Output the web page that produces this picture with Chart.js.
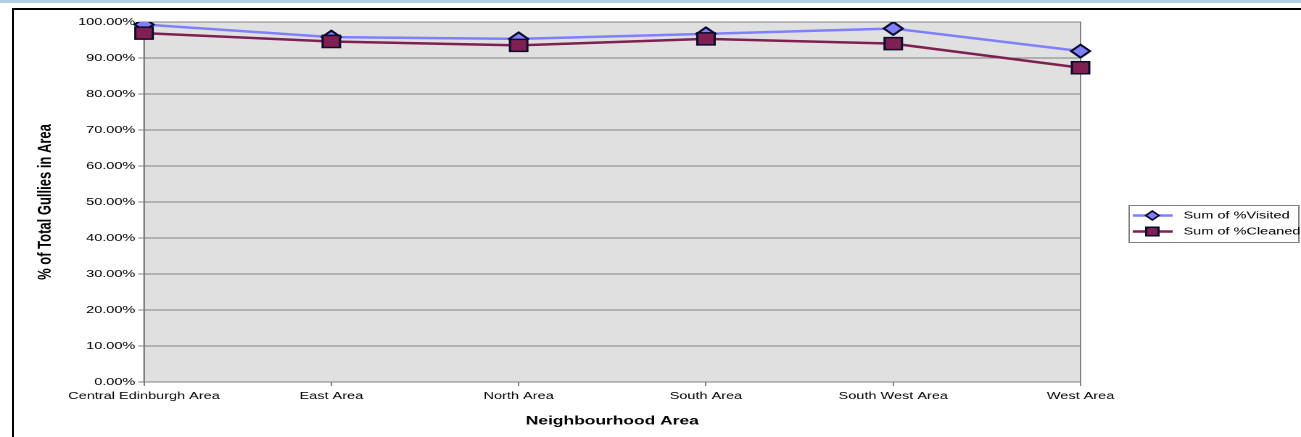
<!DOCTYPE html>
<html>
<head>
<meta charset="utf-8">
<script src="https://cdn.jsdelivr.net/npm/chart.js@4/dist/chart.umd.min.js"></script>
<style>
  html, body { margin: 0; padding: 0; background: #fff; overflow: hidden; }
  body { width: 1301px; height: 437px; position: relative; }
  #topline { position: absolute; left: 0; top: 0; width: 1301px; height: 3px; background: #b0cde6; }
  #frame { position: absolute; left: 12px; top: 8px; width: 1300px; height: 440px;
           border-left: 2px solid #000; border-top: 2px solid #000; }
  /* the chart is laid out narrow and widened horizontally */
  #wrap { position: absolute; left: 0; top: 0; width: 897px; height: 437px;
          transform: scaleX(1.4504); transform-origin: 0 0; }
  #chart { display: block; }
</style>
</head>
<body>
<div id="topline"></div>
<div id="frame"></div>
<div id="wrap"><canvas id="chart" width="897" height="437" style="width:897px;height:437px"></canvas></div>
<script>
const areas = ['Central Edinburgh Area', 'East Area', 'North Area', 'South Area', 'South West Area', 'West Area'];
const visitedPct = [99.3, 95.8, 95.3, 96.7, 98.2, 91.9];
const cleanedPct = [96.9, 94.6, 93.5, 95.3, 94.0, 87.3];
const seriesNames = ['Sum of %Visited', 'Sum of %Cleaned'];
const yTickStep = 10;

const BASE_FONT = "'Liberation Sans', Arial, sans-serif";
const VISITED_COLOR = '#8080ff';
const CLEANED_COLOR = '#7f2052';
const EDGE_COLOR = '#0a0a2a';

// grey plot area with a thin border
const plotArea = {
  id: 'plotArea',
  beforeDraw(chart) {
    const { ctx, chartArea: a } = chart;
    ctx.save();
    ctx.fillStyle = '#e0e0e0';
    ctx.fillRect(a.left, a.top, a.right - a.left, a.bottom - a.top);
    ctx.restore();
  },
  beforeDatasetsDraw(chart) {
    const { ctx, chartArea: a } = chart;
    ctx.save();
    ctx.strokeStyle = '#808080';
    ctx.lineWidth = 1;
    ctx.strokeRect(a.left, a.top, a.right - a.left, a.bottom - a.top);
    ctx.restore();
  }
};

function drawMarker(ctx, style, x, y, r, fill, stroke) {
  ctx.beginPath();
  if (style === 'rectRot') {
    ctx.moveTo(x, y - r); ctx.lineTo(x + r, y); ctx.lineTo(x, y + r); ctx.lineTo(x - r, y);
  } else {
    const s = r * Math.SQRT1_2;
    ctx.rect(x - s, y - s, 2 * s, 2 * s);
  }
  ctx.closePath();
  ctx.fillStyle = fill; ctx.fill();
  ctx.lineWidth = 1.5; ctx.strokeStyle = stroke; ctx.stroke();
}

// boxed legend to the right of the plot
const boxLegend = {
  id: 'boxLegend',
  afterDraw(chart) {
    const { ctx, chartArea: a } = chart;
    const x0 = a.right + 33.5, y0 = 205.5, w = 117, h = 37;
    ctx.save();
    ctx.fillStyle = '#fff';
    ctx.fillRect(x0, y0, w, h);
    ctx.strokeStyle = '#808080';
    ctx.lineWidth = 1;
    ctx.strokeRect(x0, y0, w, h);
    chart.data.datasets.forEach((ds, i) => {
      const y = 215.5 + i * 16;
      ctx.beginPath();
      ctx.moveTo(x0 + 2.5, y); ctx.lineTo(x0 + 30, y);
      ctx.strokeStyle = ds.borderColor; ctx.lineWidth = 2.5; ctx.stroke();
      drawMarker(ctx, ds.pointStyle, x0 + 16, y, i === 0 ? 4.5 : 6, ds.pointBackgroundColor, ds.pointBorderColor);
      ctx.fillStyle = '#000';
      ctx.font = '10px ' + BASE_FONT;
      ctx.textAlign = 'left';
      ctx.textBaseline = 'middle';
      ctx.fillText(ds.label, x0 + 37.5, y);
    });
    ctx.restore();
  }
};

new Chart(document.getElementById('chart'), {
  type: 'line',
  data: {
    labels: areas,
    datasets: [
      {
        label: seriesNames[0],
        data: visitedPct,
        order: 2,
        borderColor: VISITED_COLOR,
        borderWidth: 2.5,
        pointStyle: 'rectRot',
        pointRadius: 6.5,
        pointBackgroundColor: VISITED_COLOR,
        pointBorderColor: EDGE_COLOR,
        pointBorderWidth: 1.8,
        tension: 0
      },
      {
        label: seriesNames[1],
        data: cleanedPct,
        order: 1,
        borderColor: CLEANED_COLOR,
        borderWidth: 2.5,
        pointStyle: 'rect',
        pointRadius: 8.5,
        pointBackgroundColor: CLEANED_COLOR,
        pointBorderColor: EDGE_COLOR,
        pointBorderWidth: 1.5,
        tension: 0
      }
    ]
  },
  options: {
    responsive: false,
    animation: false,
    devicePixelRatio: 2,
    layout: { padding: { left: 0, right: 152, top: 22, bottom: 0 } },
    plugins: { legend: { display: false }, tooltip: { enabled: false } },
    scales: {
      x: {
        type: 'category',
        offset: false,
        afterFit(scale) { scale.height = 55; },
        grid: { drawOnChartArea: false, drawTicks: true, tickLength: 4, color: '#808080' },
        border: { display: true, color: '#808080', width: 1 },
        ticks: { color: '#000', padding: 4, maxRotation: 0, autoSkip: false, font: { size: 10, family: BASE_FONT } },
        title: {
          display: true,
          text: 'Neighbourhood Area',
          color: '#000',
          padding: { top: 0, bottom: 8.8 },
          font: { size: 12, weight: 'bold', family: BASE_FONT }
        }
      },
      y: {
        min: 0,
        max: 100,
        afterFit(scale) { scale.width = 99.3; },
        grid: { color: '#808080', lineWidth: 1, drawTicks: true, tickLength: 4 },
        border: { display: true, color: '#808080', width: 1 },
        ticks: {
          stepSize: yTickStep,
          color: '#000',
          padding: 2,
          font: { size: 10, family: BASE_FONT },
          callback: v => v.toFixed(2) + '%'
        },
        title: {
          display: true,
          text: '% of Total Gullies in Area',
          color: '#000',
          padding: { top: 23.5, bottom: 0 },
          font: { size: 13, weight: 'bold', family: "'Liberation Sans Narrow', 'Arial Narrow', " + BASE_FONT }
        }
      }
    }
  },
  plugins: [plotArea, boxLegend]
});
</script>
</body>
</html>
